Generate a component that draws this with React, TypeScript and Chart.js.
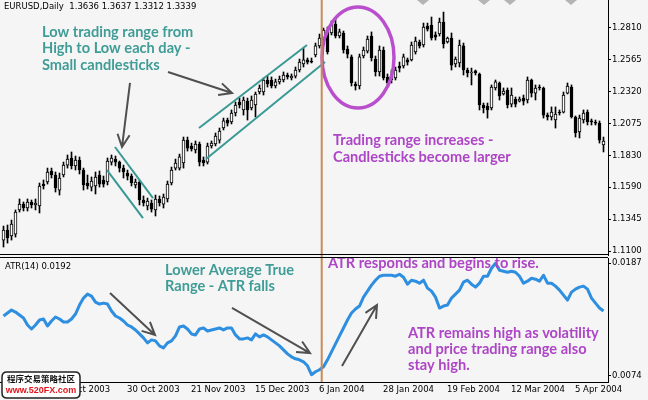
import React, { useEffect, useRef } from "react";
import { Chart, registerables } from "chart.js";

Chart.register(...registerables);

// ---------- data (EURUSD daily, bar index 0..150) ----------
const OPEN = [
  1.1185, 1.1262, 1.1216, 1.1231, 1.1415, 1.146, 1.143, 1.1476, 1.1453, 1.1445,
  1.1613, 1.1629, 1.1713, 1.1682, 1.1567, 1.1682, 1.1758, 1.1812, 1.1751, 1.1797,
  1.172, 1.1621, 1.159, 1.1598, 1.1682, 1.1644, 1.1629, 1.1781, 1.1804, 1.1781,
  1.1735, 1.1697, 1.1674, 1.1606, 1.1629, 1.1491, 1.1445, 1.1468, 1.1415, 1.1499,
  1.146, 1.1499, 1.1621, 1.1735, 1.1735, 1.1774, 1.1949, 1.1904, 1.1873, 1.1919,
  1.1797, 1.1781, 1.1904, 1.1919, 1.1949, 1.2041, 1.2102, 1.2087, 1.2156, 1.224,
  1.2179, 1.2247, 1.2194, 1.2217, 1.2316, 1.2316, 1.2408, 1.2408, 1.2362, 1.2393,
  1.2408, 1.2446, 1.2423, 1.2438, 1.2484, 1.253, 1.2561, 1.2553, 1.2599, 1.2668,
  1.2713, 1.279, 1.2767, 1.2836, 1.2744, 1.2767, 1.2645, 1.2584, 1.2377, 1.2362,
  1.2591, 1.2629, 1.2744, 1.2568, 1.2469, 1.2637, 1.2431, 1.2408, 1.2423, 1.2515,
  1.2515, 1.2561, 1.2561, 1.2622, 1.2698, 1.2675, 1.282, 1.2828, 1.2752, 1.2759,
  1.2851, 1.2698, 1.2729, 1.253, 1.2538, 1.2668, 1.2484, 1.2461, 1.2477, 1.2454,
  1.2217, 1.2209, 1.2194, 1.2347, 1.2385, 1.2301, 1.2331, 1.2224, 1.2263, 1.2247,
  1.227, 1.2255, 1.2408, 1.2308, 1.2354, 1.2347, 1.214, 1.2125, 1.2102, 1.2163,
  1.2163, 1.2308, 1.2354, 1.2125, 1.2011, 1.2102, 1.2163, 1.2095, 1.2087, 1.2079,
  1.1911,
];
const HIGH = [
  1.1292, 1.13, 1.1338, 1.1415, 1.1499, 1.1476, 1.1499, 1.1491, 1.1499, 1.1621,
  1.1644, 1.1735, 1.1735, 1.1705, 1.1697, 1.1781, 1.1835, 1.1858, 1.1827, 1.182,
  1.1735, 1.1682, 1.1667, 1.1705, 1.1713, 1.1674, 1.1812, 1.1835, 1.1827, 1.1789,
  1.1758, 1.172, 1.169, 1.1651, 1.1644, 1.1522, 1.1506, 1.1491, 1.1529, 1.1522,
  1.1537, 1.1636, 1.1743, 1.1804, 1.1842, 1.1972, 1.1972, 1.1926, 1.1942, 1.1934,
  1.182, 1.1926, 1.1942, 1.2003, 1.2041, 1.2117, 1.2117, 1.2179, 1.224, 1.227,
  1.2278, 1.227, 1.2286, 1.2316, 1.237, 1.2423, 1.2438, 1.2431, 1.2415, 1.2438,
  1.2469, 1.2461, 1.2454, 1.2507, 1.2568, 1.2652, 1.2576, 1.2576, 1.269, 1.2759,
  1.2805, 1.2813, 1.2859, 1.2874, 1.2797, 1.2782, 1.2668, 1.2599, 1.2393, 1.2606,
  1.266, 1.2744, 1.2775, 1.2591, 1.2668, 1.266, 1.2454, 1.2484, 1.2507, 1.2545,
  1.2606, 1.2576, 1.2698, 1.2736, 1.2713, 1.2843, 1.2843, 1.2889, 1.2775, 1.2881,
  1.2927, 1.2736, 1.2767, 1.2584, 1.2713, 1.269, 1.2499, 1.2499, 1.2484, 1.2461,
  1.2232, 1.2232, 1.237, 1.2408, 1.2393, 1.2347, 1.2347, 1.2347, 1.2278, 1.2278,
  1.2293, 1.2431, 1.2415, 1.237, 1.237, 1.2354, 1.2156, 1.2202, 1.2202, 1.2179,
  1.2316, 1.2385, 1.237, 1.2133, 1.214, 1.2179, 1.2179, 1.211, 1.2102, 1.2095,
  1.1972,
];
const LOW = [
  1.1132, 1.1162, 1.1185, 1.1208, 1.1399, 1.1407, 1.1407, 1.143, 1.1415, 1.1392,
  1.1575, 1.1613, 1.1659, 1.1552, 1.1529, 1.1667, 1.1735, 1.1728, 1.172, 1.169,
  1.1567, 1.1575, 1.156, 1.1537, 1.159, 1.159, 1.1606, 1.1758, 1.1751, 1.1705,
  1.1659, 1.1644, 1.1598, 1.1583, 1.1453, 1.1445, 1.1415, 1.1399, 1.1369, 1.1445,
  1.143, 1.1476, 1.1606, 1.172, 1.172, 1.1735, 1.1865, 1.1865, 1.185, 1.1751,
  1.1751, 1.1766, 1.1888, 1.1904, 1.1926, 1.2026, 1.2056, 1.2072, 1.2133, 1.2194,
  1.214, 1.2102, 1.2179, 1.2125, 1.2301, 1.2293, 1.2354, 1.2347, 1.2347, 1.2377,
  1.2393, 1.2415, 1.2408, 1.2423, 1.2469, 1.2507, 1.253, 1.2538, 1.2584, 1.2652,
  1.2698, 1.2606, 1.2752, 1.2729, 1.2729, 1.2614, 1.2576, 1.2362, 1.2331, 1.2339,
  1.2576, 1.2614, 1.2553, 1.2438, 1.2438, 1.2408, 1.2354, 1.2385, 1.2408, 1.2469,
  1.2499, 1.2522, 1.2553, 1.2606, 1.2652, 1.266, 1.2782, 1.2713, 1.2713, 1.2744,
  1.2652, 1.269, 1.2484, 1.2507, 1.2507, 1.2446, 1.2431, 1.237, 1.2446, 1.2179,
  1.2156, 1.2117, 1.2179, 1.2331, 1.2255, 1.2293, 1.2194, 1.2202, 1.2202, 1.224,
  1.2217, 1.2232, 1.2278, 1.2255, 1.2331, 1.2117, 1.2102, 1.2102, 1.2041, 1.214,
  1.2156, 1.2301, 1.2117, 1.1972, 1.1965, 1.2079, 1.2064, 1.2064, 1.2064, 1.1926,
  1.1858,
];
const CLOSE = [
  1.1262, 1.1201, 1.1308, 1.1399, 1.146, 1.143, 1.1476, 1.1453, 1.1468, 1.1598,
  1.1598, 1.1705, 1.1682, 1.1583, 1.1659, 1.1758, 1.1804, 1.1751, 1.1797, 1.172,
  1.1606, 1.1598, 1.1636, 1.1667, 1.1613, 1.1613, 1.1789, 1.1812, 1.1781, 1.1735,
  1.1705, 1.1674, 1.1621, 1.1629, 1.1491, 1.1468, 1.1483, 1.1422, 1.1499, 1.1468,
  1.1514, 1.1613, 1.172, 1.1774, 1.182, 1.1949, 1.1888, 1.1881, 1.1919, 1.1781,
  1.1774, 1.1904, 1.1926, 1.198, 1.2018, 1.2095, 1.2079, 1.2156, 1.2217, 1.2217,
  1.2255, 1.2179, 1.2255, 1.2301, 1.2347, 1.2408, 1.2377, 1.2362, 1.2393, 1.2415,
  1.2446, 1.2431, 1.2438, 1.2484, 1.2545, 1.2561, 1.2545, 1.2545, 1.2668, 1.2729,
  1.279, 1.2622, 1.2836, 1.2744, 1.2775, 1.2637, 1.2606, 1.2385, 1.2362, 1.2584,
  1.2637, 1.2721, 1.2576, 1.2469, 1.2637, 1.2423, 1.2385, 1.2438, 1.2484, 1.2499,
  1.2584, 1.2545, 1.2675, 1.2706, 1.2668, 1.2813, 1.2797, 1.2729, 1.2736, 1.2851,
  1.2683, 1.2729, 1.2522, 1.2568, 1.2675, 1.2484, 1.2461, 1.2469, 1.2461, 1.2217,
  1.2194, 1.2179, 1.2354, 1.2393, 1.2286, 1.2324, 1.2217, 1.2293, 1.2224, 1.2263,
  1.2247, 1.2408, 1.2308, 1.2347, 1.2347, 1.214, 1.2125, 1.2163, 1.2148, 1.2156,
  1.2293, 1.2362, 1.2125, 1.2003, 1.2117, 1.2156, 1.2087, 1.2087, 1.2079, 1.1949,
  1.1942,
];
const ATR = [
  0.0134, 0.0137, 0.014, 0.0138, 0.0135, 0.0132, 0.0125, 0.0121, 0.0125, 0.013,
  0.0131, 0.0124, 0.0129, 0.0133, 0.0131, 0.0128, 0.0128, 0.0131, 0.0136, 0.0145,
  0.0152, 0.0156, 0.0154, 0.0148, 0.0146, 0.0147, 0.0146, 0.0139, 0.0134, 0.0132,
  0.0129, 0.0125, 0.0123, 0.012, 0.0116, 0.0112, 0.0107, 0.011, 0.0109, 0.0104,
  0.0102, 0.0107, 0.0109, 0.0114, 0.0123, 0.0124, 0.0121, 0.0116, 0.0115, 0.0121,
  0.0122, 0.0119, 0.012, 0.0121, 0.0122, 0.012, 0.0122, 0.0122, 0.0115, 0.0111,
  0.0111, 0.0112, 0.011, 0.0116, 0.0113, 0.0115, 0.0113, 0.011, 0.0107, 0.0104,
  0.01, 0.0096, 0.0093, 0.0091, 0.009, 0.0088, 0.0084, 0.0075, 0.0078, 0.008,
  0.0083, 0.009, 0.0098, 0.0106, 0.0114, 0.0122, 0.013, 0.0137, 0.0141, 0.0144,
  0.0153, 0.0159, 0.0165, 0.017, 0.0174, 0.0175, 0.0175, 0.0175, 0.0174, 0.0176,
  0.0173, 0.0166, 0.017, 0.0169, 0.0167, 0.017, 0.0162, 0.0159, 0.0153, 0.0142,
  0.0144, 0.0145, 0.0152, 0.0156, 0.016, 0.0168, 0.017, 0.0166, 0.0163, 0.0167,
  0.0174, 0.0174, 0.0182, 0.0187, 0.018, 0.0179, 0.0178, 0.0179, 0.0178, 0.0174,
  0.0167, 0.0169, 0.0172, 0.0171, 0.0169, 0.0175, 0.0167, 0.0167, 0.0164, 0.016,
  0.0155, 0.015, 0.0158, 0.0161, 0.0163, 0.0164, 0.0161, 0.0152, 0.0147, 0.0142,
  0.0139,
];
const PRICE_TICKS = [1.281, 1.2565, 1.232, 1.2075, 1.183, 1.159, 1.1345, 1.11];
const ATR_TICKS = [0.0187, 0.0074];
const DATE_TICK_INDEX = [16, 32, 48, 64, 80, 96, 112, 128, 144];
const DATE_LABELS = [
  "8 Oct 2003", "30 Oct 2003", "21 Nov 2003", "15 Dec 2003", "6 Jan 2004",
  "28 Jan 2004", "19 Feb 2004", "12 Mar 2004", "5 Apr 2004",
];
const HEADER = "EURUSD,Daily  1.3636 1.3637 1.3312 1.3339";
const ATR_HEADER = "ATR(14) 0.0192";

// ---------- annotations (in data coordinates: bar index, value) ----------
const VLINE_X = 79.55;
const EVENT_MARKS = [104.875, 120.125, 126.625, 141.875];
const PRICE_CHANNELS = [
  [27.875, 1.1896, 37.375, 1.1506],
  [25.875, 1.172, 34.875, 1.1353],
  [48.875, 1.2041, 75.875, 1.2675],
  [50.625, 1.1804, 80.375, 1.2545],
];
const PRICE_ARROWS = [
  [31.625, 1.2385, 29.625, 1.1896],
  [41.125, 1.2469, 57.125, 1.2308],
];
const ELLIPSE = { x: 88.625, y: 1.258, rx: 9, ry: 0.0386 };
const ATR_ARROWS = [
  [26.625, 0.01571, 37.875, 0.01149],
  [57.125, 0.01421, 76.625, 0.00968],
  [84.625, 0.00838, 93.375, 0.01451],
];

const TEAL = "#3f9c96";
const TEAL_LINE = "#3a9994";
const PURPLE = "#ad45c6";
const PRICE_NOTES = [
  { x: 9.625, ys: [1.2775, 1.2648, 1.2522], color: TEAL,
    lines: ["Low trading range from", "High to Low each day -", "Small candlesticks"] },
  { x: 82.375, ys: [1.1949, 1.182], color: PURPLE,
    lines: ["Trading range increases -", "Candlesticks become larger"] },
];
const ATR_NOTES = [
  { x: 40.375, ys: [0.01803, 0.01642], color: TEAL, lines: ["Lower Average True", "Range - ATR falls"] },
  { x: 81.125, ys: [0.01873], color: PURPLE, lines: ["ATR responds and begins to rise."] },
  { x: 101.125, ys: [0.01169, 0.01009, 0.00848], color: PURPLE,
    lines: ["ATR remains high as volatility", "and price trading range also", "stay high."] },
];

const X_MIN = -0.875;
const X_MAX = 151.125;
const PRICE_MIN = 1.1071;
const PRICE_MAX = 1.3019;
const ATR_MIN = 0.00677;
const ATR_MAX = 0.01923;

const AXIS_FONT = { family: "DejaVu Sans", size: 8.5 };
const ANN_FONT = "bold 14.6px Lato";
const ARROW_COLOR = "#505050";
const VLINE_COLOR = "#c98a58";

function drawArrow(ctx: CanvasRenderingContext2D, x1: number, y1: number, x2: number, y2: number) {
  const a = Math.atan2(y2 - y1, x2 - x1);
  const head = 14;
  const ang = 0.45;
  ctx.beginPath();
  ctx.moveTo(x1, y1);
  ctx.lineTo(x2, y2);
  ctx.moveTo(x2 - head * Math.cos(a - ang), y2 - head * Math.sin(a - ang));
  ctx.lineTo(x2, y2);
  ctx.lineTo(x2 - head * Math.cos(a + ang), y2 - head * Math.sin(a + ang));
  ctx.stroke();
}

function drawNotes(ctx: CanvasRenderingContext2D, notes: any[], X: any, Y: any) {
  ctx.font = ANN_FONT;
  ctx.textBaseline = "middle";
  ctx.textAlign = "left";
  for (const n of notes) {
    ctx.fillStyle = n.color;
    n.lines.forEach((s: string, k: number) => ctx.fillText(s, X(n.x), Y(n.ys[k])));
  }
}

const pricePlugin = {
  id: "priceDecor",
  afterDatasetsDraw(chart: any) {
    const { ctx, scales } = chart;
    const X = (v: number) => scales.x.getPixelForValue(v);
    const Y = (v: number) => scales.y.getPixelForValue(v);
    ctx.save();
    ctx.lineCap = "butt";
    ctx.strokeStyle = TEAL_LINE;
    ctx.lineWidth = 2;
    for (const [x1, y1, x2, y2] of PRICE_CHANNELS) {
      ctx.beginPath();
      ctx.moveTo(X(x1), Y(y1));
      ctx.lineTo(X(x2), Y(y2));
      ctx.stroke();
    }
    ctx.strokeStyle = ARROW_COLOR;
    ctx.lineWidth = 2;
    for (const [x1, y1, x2, y2] of PRICE_ARROWS) drawArrow(ctx, X(x1), Y(y1), X(x2), Y(y2));
    const cx = X(ELLIPSE.x);
    const cy = Y(ELLIPSE.y);
    const rx = X(ELLIPSE.x + ELLIPSE.rx) - cx;
    const ry = Y(ELLIPSE.y - ELLIPSE.ry) - cy;
    ctx.strokeStyle = "#b94fcc";
    ctx.lineWidth = 3.5;
    ctx.beginPath();
    ctx.ellipse(cx, cy, rx, ry, 0, 0, Math.PI * 2);
    ctx.stroke();
    ctx.strokeStyle = VLINE_COLOR;
    ctx.lineWidth = 2;
    ctx.beginPath();
    ctx.moveTo(X(VLINE_X), 0);
    ctx.lineTo(X(VLINE_X), chart.height);
    ctx.stroke();
    drawNotes(ctx, PRICE_NOTES, X, Y);
    ctx.restore();
  },
  afterDraw(chart: any) {
    const { ctx, chartArea: a, scales } = chart;
    const X = (v: number) => scales.x.getPixelForValue(v);
    ctx.save();
    ctx.strokeStyle = "#000";
    ctx.lineWidth = 1;
    ctx.beginPath();
    ctx.moveTo(0, a.bottom - 0.5);
    ctx.lineTo(a.right, a.bottom - 0.5);
    ctx.moveTo(0, a.bottom + 2.5);
    ctx.lineTo(a.right, a.bottom + 2.5);
    ctx.stroke();
    ctx.fillStyle = "#b4b4b4";
    for (const m of EVENT_MARKS) {
      const px = X(m);
      ctx.beginPath();
      ctx.moveTo(px - 6, 0);
      ctx.lineTo(px + 6, 0);
      ctx.lineTo(px, 5);
      ctx.closePath();
      ctx.fill();
    }
    ctx.fillStyle = "#000";
    ctx.font = "8.5px 'DejaVu Sans'";
    ctx.textBaseline = "middle";
    ctx.textAlign = "left";
    ctx.fillText(HEADER, 4, 7);
    ctx.restore();
  },
};

const atrPlugin = {
  id: "atrDecor",
  afterDatasetsDraw(chart: any) {
    const { ctx, scales, chartArea: a } = chart;
    const X = (v: number) => scales.x.getPixelForValue(v);
    const Y = (v: number) => scales.y.getPixelForValue(v);
    ctx.save();
    ctx.strokeStyle = VLINE_COLOR;
    ctx.lineWidth = 2;
    ctx.beginPath();
    ctx.moveTo(X(VLINE_X), 0);
    ctx.lineTo(X(VLINE_X), a.bottom);
    ctx.stroke();
    ctx.strokeStyle = ARROW_COLOR;
    ctx.lineWidth = 2;
    for (const [x1, y1, x2, y2] of ATR_ARROWS) drawArrow(ctx, X(x1), Y(y1), X(x2), Y(y2));
    drawNotes(ctx, ATR_NOTES, X, Y);
    ctx.fillStyle = "#000";
    ctx.font = "8.5px 'DejaVu Sans'";
    ctx.fillText(ATR_HEADER, X(0.375), Y(0.01833));
    ctx.restore();
  },
  afterDraw(chart: any) {
    const { ctx } = chart;
    ctx.save();
    const x0 = 2, y0 = 114, w = 78, h = 26, r = 5;
    ctx.beginPath();
    ctx.moveTo(x0 + r, y0);
    ctx.lineTo(x0 + w - r, y0);
    ctx.quadraticCurveTo(x0 + w, y0, x0 + w, y0 + r);
    ctx.lineTo(x0 + w, y0 + h - r);
    ctx.quadraticCurveTo(x0 + w, y0 + h, x0 + w - r, y0 + h);
    ctx.lineTo(x0 + r, y0 + h);
    ctx.quadraticCurveTo(x0, y0 + h, x0, y0 + h - r);
    ctx.lineTo(x0, y0 + r);
    ctx.quadraticCurveTo(x0, y0, x0 + r, y0);
    ctx.closePath();
    ctx.fillStyle = "#ffffff";
    ctx.fill();
    ctx.strokeStyle = "#222";
    ctx.lineWidth = 1.5;
    ctx.stroke();
    ctx.textAlign = "center";
    ctx.textBaseline = "middle";
    ctx.fillStyle = "#111";
    ctx.font = "bold 8.5px 'Noto Sans CJK SC'";
    ctx.fillText("程序交易策略社区", x0 + w / 2, 121);
    ctx.fillStyle = "#e3141c";
    ctx.font = "bold 9px 'Liberation Sans'";
    ctx.fillText("www.520FX.com", x0 + w / 2, 133);
    ctx.restore();
  },
};

export default function App() {
  const priceRef = useRef<HTMLCanvasElement>(null);
  const atrRef = useRef<HTMLCanvasElement>(null);

  useEffect(() => {
    const idx = OPEN.map((_, i) => i);
    const priceChart = new Chart(priceRef.current as HTMLCanvasElement, {
      type: "bar",
      data: {
        datasets: [
          {
            label: "wick",
            data: idx.map((i) => ({ x: i, y: [LOW[i], HIGH[i]] })),
            backgroundColor: "#000000",
            borderWidth: 0,
            barThickness: 1,
            grouped: false,
            order: 2,
          },
          {
            label: "body",
            data: idx.map((i) => ({ x: i, y: [OPEN[i], CLOSE[i]] })),
            backgroundColor: idx.map((i) => (CLOSE[i] >= OPEN[i] ? "#ffffff" : "#000000")),
            borderColor: "#000000",
            borderWidth: 1,
            borderSkipped: false,
            barThickness: 3,
            minBarLength: 1,
            grouped: false,
            order: 1,
          },
        ],
      } as any,
      options: {
        animation: false,
        responsive: false,
        maintainAspectRatio: false,
        events: [],
        layout: { padding: { left: 0, right: 0, top: 0, bottom: 3 } },
        plugins: { legend: { display: false }, tooltip: { enabled: false } },
        scales: {
          x: { type: "linear", min: X_MIN, max: X_MAX, display: false, offset: false },
          y: {
            type: "linear",
            position: "right",
            min: PRICE_MIN,
            max: PRICE_MAX,
            afterBuildTicks: (s: any) => {
              s.ticks = PRICE_TICKS.map((v) => ({ value: v }));
            },
            afterFit: (s: any) => {
              s.width = 40;
              s.paddingTop = 0;
              s.paddingBottom = 0;
            },
            ticks: {
              callback: (v: any) => Number(v).toFixed(4),
              color: "#000",
              font: AXIS_FONT,
              padding: 1,
              autoSkip: false,
            },
            grid: { drawOnChartArea: false, drawTicks: true, tickLength: 3, color: "#000" },
            border: { display: true, color: "#000", width: 1 },
          },
        },
      } as any,
      plugins: [pricePlugin],
    });

    const atrChart = new Chart(atrRef.current as HTMLCanvasElement, {
      type: "line",
      data: {
        datasets: [
          {
            label: "ATR(14)",
            data: idx.map((i) => ({ x: i, y: ATR[i] })),
            borderColor: "#2e8ee0",
            borderWidth: 3,
            pointRadius: 0,
            tension: 0,
            fill: false,
            borderJoinStyle: "round",
          },
        ],
      } as any,
      options: {
        animation: false,
        responsive: false,
        maintainAspectRatio: false,
        events: [],
        layout: { padding: 0 },
        plugins: { legend: { display: false }, tooltip: { enabled: false } },
        scales: {
          x: {
            type: "linear",
            min: X_MIN,
            max: X_MAX,
            offset: false,
            afterBuildTicks: (s: any) => {
              s.ticks = DATE_TICK_INDEX.map((v) => ({ value: v }));
            },
            afterFit: (s: any) => {
              s.height = 18;
              s.paddingLeft = 0;
              s.paddingRight = 0;
            },
            ticks: {
              callback: (_v: any, i: number) => DATE_LABELS[i],
              align: "start",
              labelOffset: -4.5,
              padding: 3,
              color: "#000",
              font: AXIS_FONT,
              autoSkip: false,
              maxRotation: 0,
              minRotation: 0,
            },
            grid: { display: false, drawTicks: false },
            border: { display: true, color: "#000", width: 1 },
          },
          y: {
            type: "linear",
            position: "right",
            min: ATR_MIN,
            max: ATR_MAX,
            afterBuildTicks: (s: any) => {
              s.ticks = ATR_TICKS.map((v) => ({ value: v }));
            },
            afterFit: (s: any) => {
              s.width = 40;
              s.paddingTop = 0;
              s.paddingBottom = 0;
            },
            ticks: {
              callback: (v: any) => Number(v).toFixed(4),
              color: "#000",
              font: AXIS_FONT,
              padding: 1,
              autoSkip: false,
            },
            grid: { drawOnChartArea: false, drawTicks: true, tickLength: 3, color: "#000" },
            border: { display: true, color: "#000", width: 1 },
          },
        },
      } as any,
      plugins: [atrPlugin],
    });

    return () => {
      priceChart.destroy();
      atrChart.destroy();
    };
  }, []);

  return (
    <div
      style={{
        position: "absolute",
        left: 0,
        top: 0,
        width: 648,
        height: 400,
        background: "#f5f5f5",
        overflow: "hidden",
      }}
    >
      <canvas
        ref={priceRef}
        width={648}
        height={258}
        style={{ position: "absolute", left: 0, top: 0, width: 648, height: 258 }}
      />
      <canvas
        ref={atrRef}
        width={648}
        height={142}
        style={{ position: "absolute", left: 0, top: 258, width: 648, height: 142 }}
      />
    </div>
  );
}
